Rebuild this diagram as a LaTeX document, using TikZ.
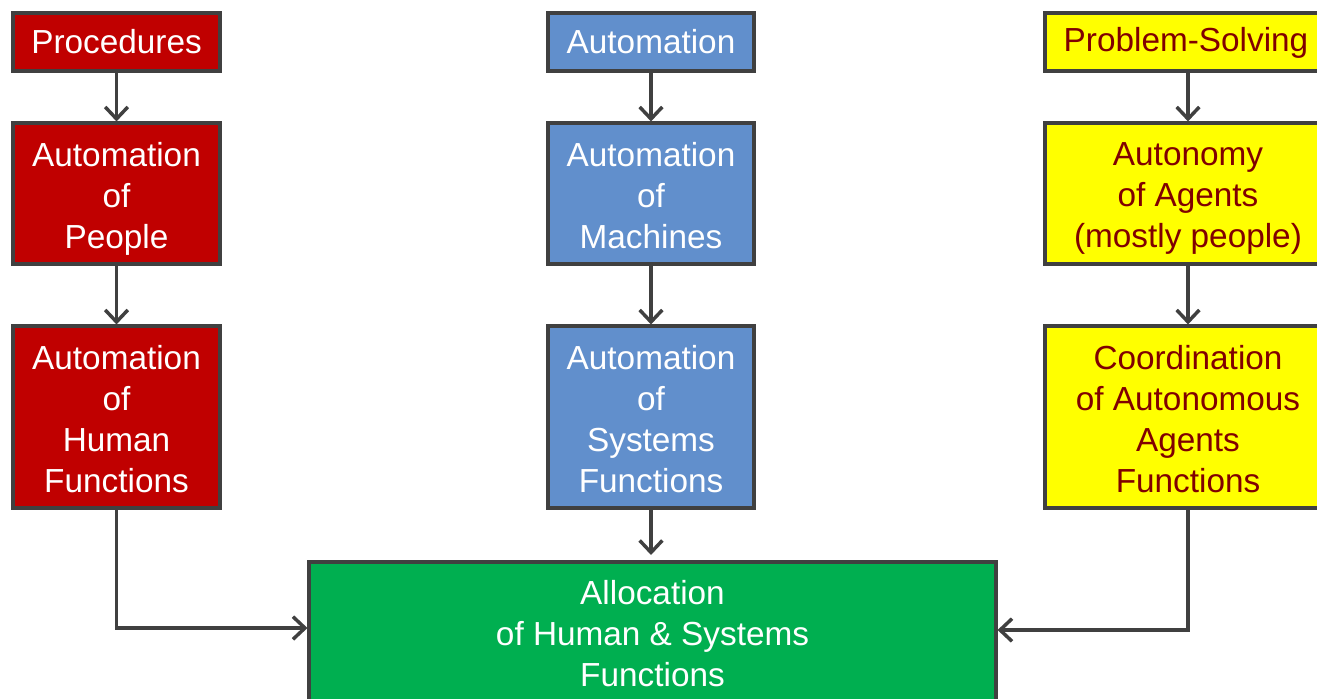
\documentclass[tikz,border=0pt]{standalone}
\usepackage{fontspec}
\setmainfont{Liberation Sans}
\usetikzlibrary{arrows.meta}
\definecolor{boxred}{HTML}{C00000}
\definecolor{boxblue}{HTML}{618FCC}
\definecolor{boxyellow}{HTML}{FFFF00}
\definecolor{boxgreen}{HTML}{00AF50}
\definecolor{edgegray}{HTML}{404040}
\definecolor{darkred}{HTML}{800000}
\tikzset{
  box/.style={draw=edgegray, line width=2.3pt, rectangle, inner sep=0pt},
  redbox/.style={box, fill=boxred},
  bluebox/.style={box, fill=boxblue},
  yellowbox/.style={box, fill=boxyellow},
  greenbox/.style={box, fill=boxgreen},
  txt/.style={inner sep=0pt, align=center, font=\fontsize{25}{30.75}\selectfont, text=white},
  ytxt/.style={txt, text=darkred},
  conn/.style={draw=edgegray, line width=2.6pt, -{Straight Barb[length=9pt,width=17pt,line width=2.6pt]}}
}
\begin{document}
\begin{tikzpicture}[x=0.75pt,y=-0.75pt]
\useasboundingbox (0,0) rectangle (1317,699);
\clip (0,0) rectangle (1317,699);
% left column
\node[redbox, minimum width=207*0.75pt, minimum height=58*0.75pt] (p1) at (116.5,42) {};
\node[txt] (p1t) at (p1.center) {Procedures};
\node[redbox, minimum width=207*0.75pt, minimum height=141*0.75pt] (p2) at (116.5,193.5) {};
\node[txt] (p2t) at ([yshift=-3.75pt]p2.center) {Automation\\of\\People};
\node[redbox, minimum width=207*0.75pt, minimum height=182*0.75pt] (p3) at (116.5,417) {};
\node[txt] (p3t) at ([yshift=-1.5pt]p3.center) {Automation\\of\\Human\\Functions};
% middle column
\node[bluebox, minimum width=206*0.75pt, minimum height=58*0.75pt] (m1) at (651,42) {};
\node[txt] (m1t) at (m1.center) {Automation};
\node[bluebox, minimum width=206*0.75pt, minimum height=141*0.75pt] (m2) at (651,193.5) {};
\node[txt] (m2t) at ([yshift=-1.5pt]m2.center) {Automation\\of\\Machines};
\node[bluebox, minimum width=206*0.75pt, minimum height=182*0.75pt] (m3) at (651,417) {};
\node[txt] (m3t) at ([yshift=-1.5pt]m3.center) {Automation\\of\\Systems\\Functions};
% right column
\node[yellowbox, minimum width=286*0.75pt, minimum height=58*0.75pt] (y1) at (1188,42) {};
\node[ytxt] (y1t) at ([xshift=-1.5pt,yshift=-1pt]y1.center) {Problem-Solving};
\node[yellowbox, minimum width=286*0.75pt, minimum height=141*0.75pt] (y2) at (1188,193.5) {};
\node[ytxt] (y2t) at ([yshift=-3.75pt]y2.center) {Autonomy\\of Agents\\(mostly people)};
\node[yellowbox, minimum width=286*0.75pt, minimum height=182*0.75pt] (y3) at (1188,417) {};
\node[ytxt] (y3t) at ([yshift=-1.5pt]y3.center) {Coordination\\of Autonomous\\Agents\\Functions};
% bottom
\node[greenbox, minimum width=687*0.75pt, minimum height=142*0.75pt] (g) at (652.5,633) {};
\node[txt] (gt) at ([yshift=-0.75pt]g.center) {Allocation\\of Human \& Systems\\Functions};
\coordinate (gtop) at (651,555);
% connectors
\draw[conn] (p1.south) -- (p2.north);
\draw[conn] (p2.south) -- (p3.north);
\draw[conn] (m1.south) -- (m2.north);
\draw[conn] (m2.south) -- (m3.north);
\draw[conn] (y1.south) -- (y2.north);
\draw[conn] (y2.south) -- (y3.north);
\draw[conn] (m3.south) -- (gtop);
\draw[conn] (p3.south) |- ([yshift=3.75pt]g.west);
\draw[conn] (y3.south) |- ([yshift=2.25pt]g.east);
\end{tikzpicture}
\end{document}
